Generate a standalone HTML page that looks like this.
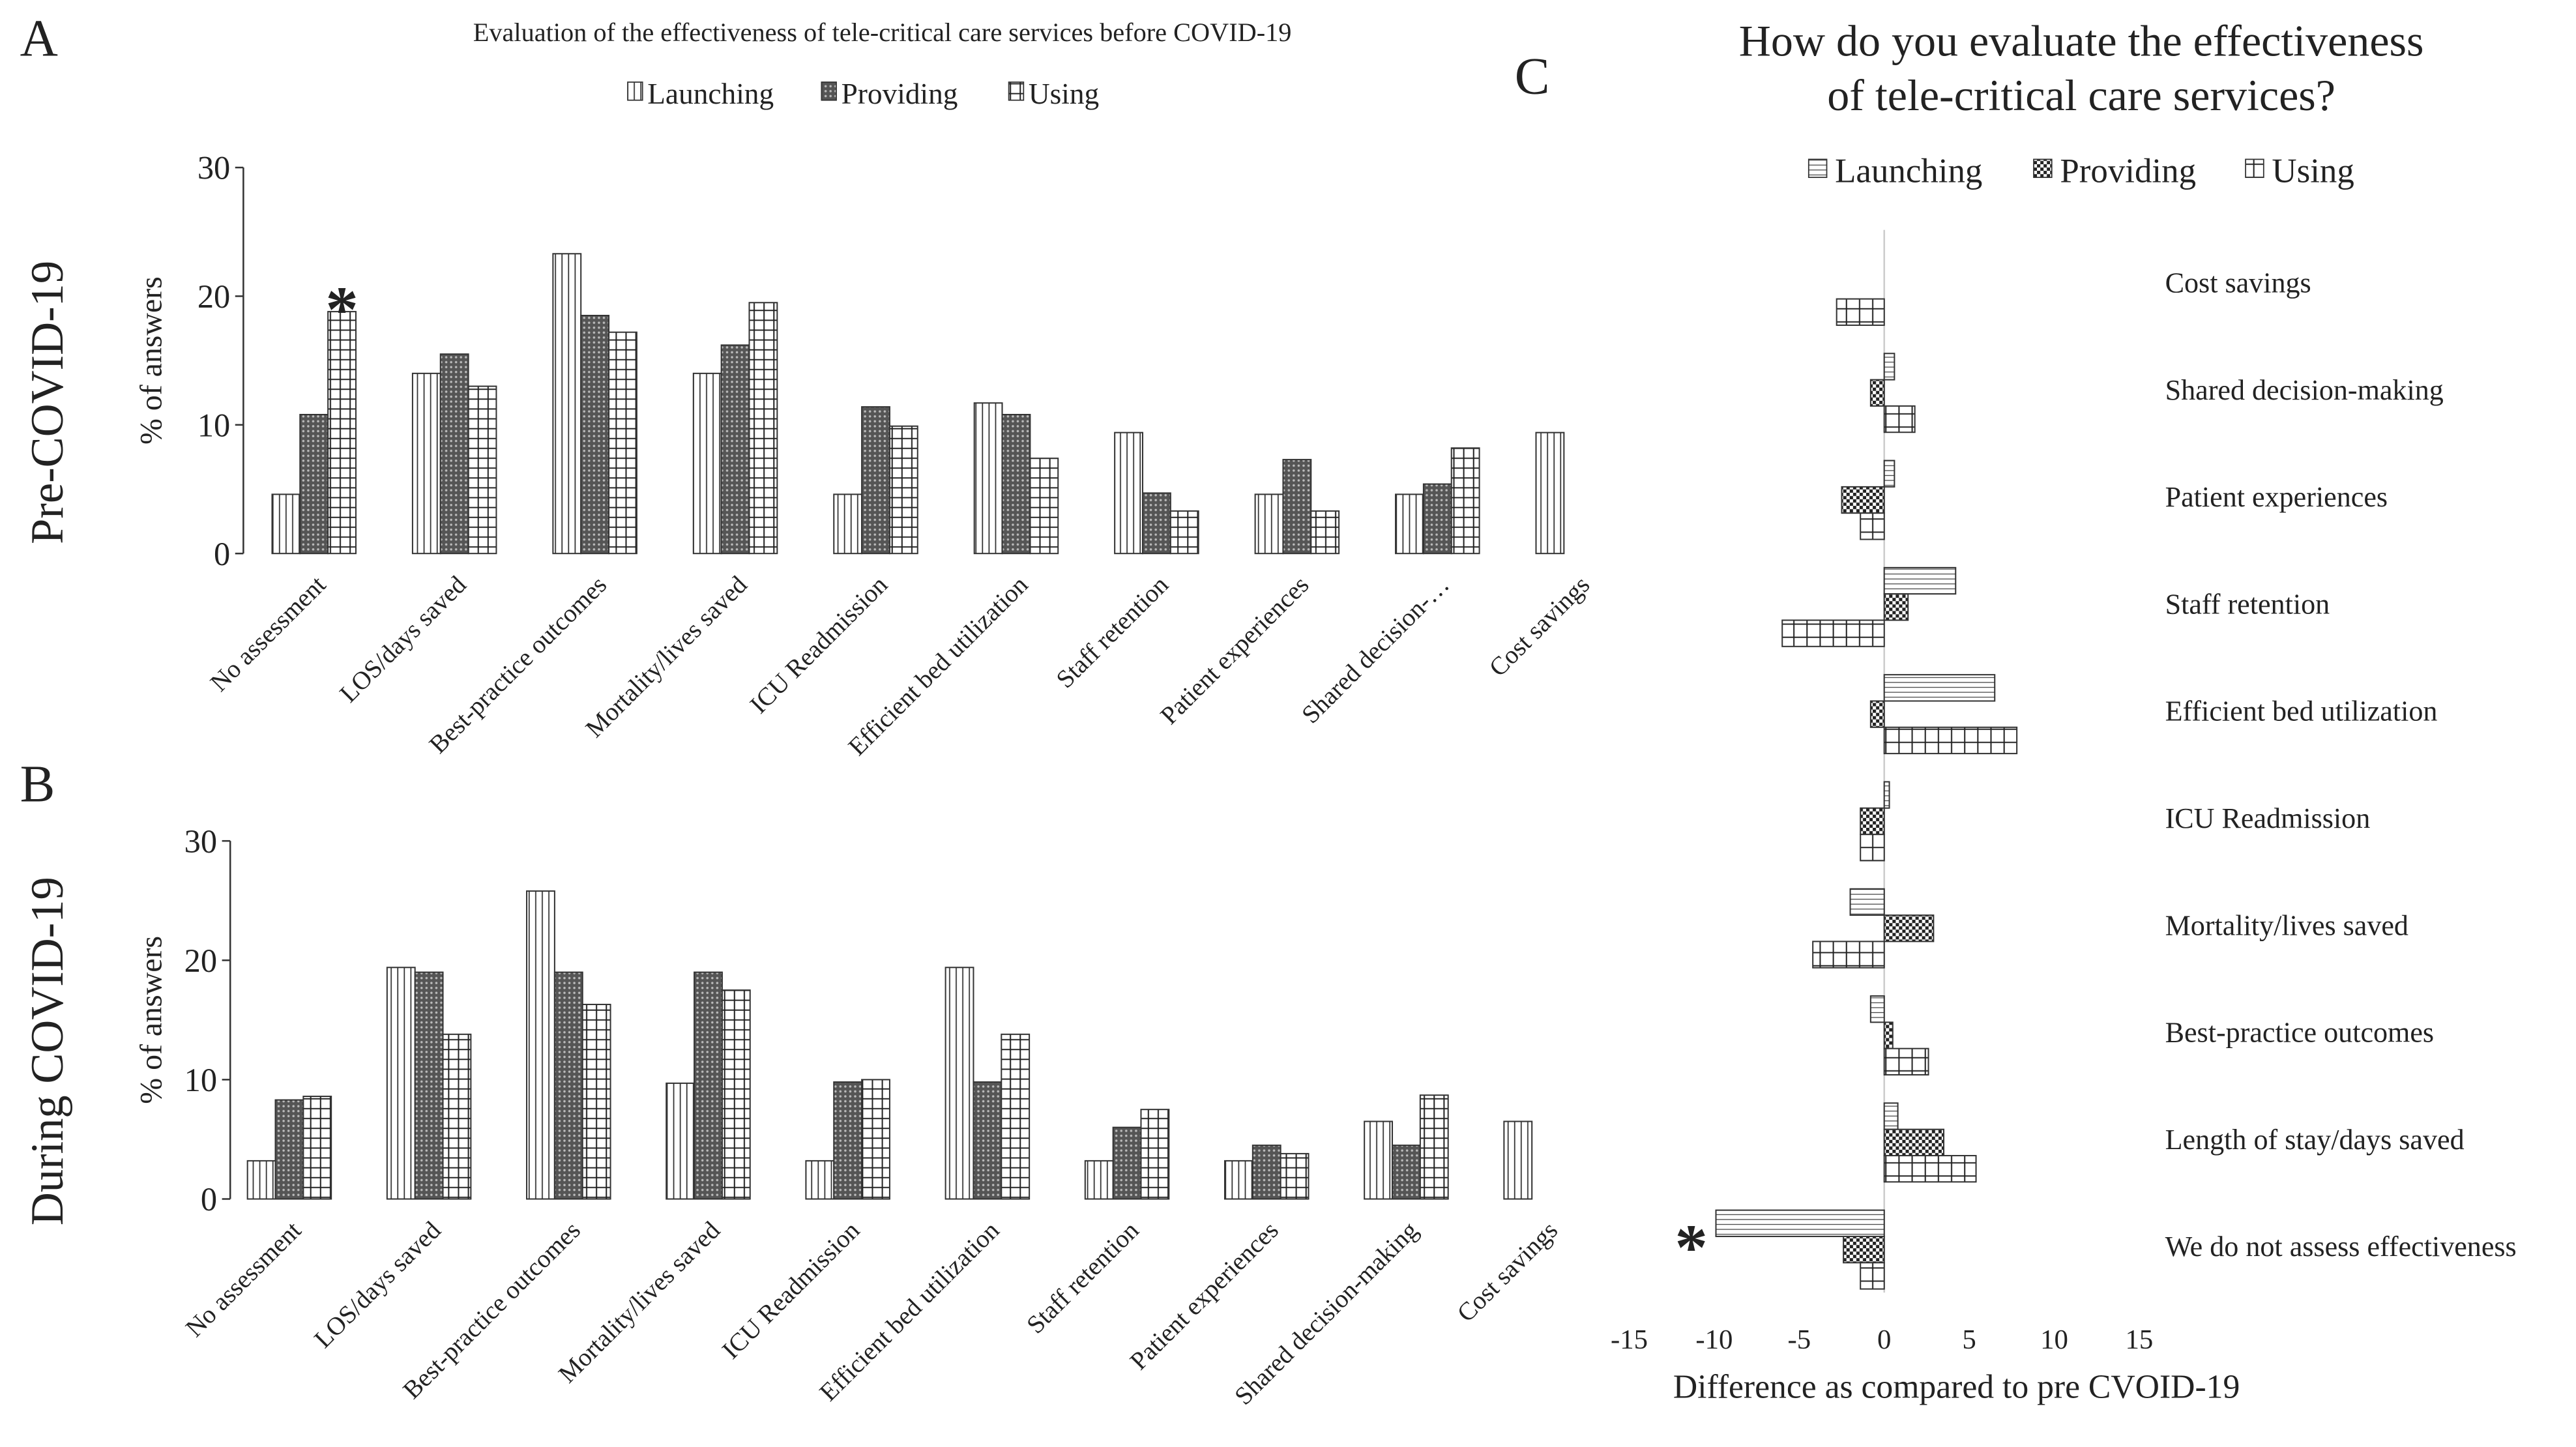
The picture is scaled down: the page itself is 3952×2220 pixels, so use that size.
<!DOCTYPE html>
<html><head><meta charset="utf-8"><style>
html,body{margin:0;padding:0;background:#fff}
svg{display:block}
text{font-family:"Liberation Serif",serif;fill:#222}
</style></head><body>
<svg id="fig" width="3952" height="2220" viewBox="0 0 1568 881" xmlns="http://www.w3.org/2000/svg">
<defs>
<pattern id="pV" width="4" height="4" patternUnits="userSpaceOnUse"><rect width="4" height="4" fill="#fff"/><line x1="2" y1="0" x2="2" y2="4" stroke="#333" stroke-width="0.7"/></pattern>
<pattern id="pD" width="3" height="3" patternUnits="userSpaceOnUse"><rect width="3" height="3" fill="#555"/><circle cx="1.5" cy="1.5" r="0.7" fill="#bbb"/></pattern>
<pattern id="pG" width="6" height="6" patternUnits="userSpaceOnUse"><rect width="6" height="6" fill="#fff"/><path d="M3 0V6M0 3H6" stroke="#222" stroke-width="0.8"/></pattern>
<pattern id="pH" width="3" height="3" patternUnits="userSpaceOnUse"><rect width="3" height="3" fill="#fff"/><line x1="0" y1="1.5" x2="3" y2="1.5" stroke="#444" stroke-width="0.5"/></pattern>
<pattern id="pC" width="4" height="4" patternUnits="userSpaceOnUse"><rect width="4" height="4" fill="#fff"/><rect width="2" height="2" fill="#222"/><rect x="2" y="2" width="2" height="2" fill="#222"/></pattern>
<pattern id="pG2" width="8" height="8" patternUnits="userSpaceOnUse"><rect width="8" height="8" fill="#fff"/><path d="M4 0V8M0 4H8" stroke="#222" stroke-width="0.8"/></pattern>
</defs>
<g id="root"></g>
</svg>
<script>
const catsA = ["No assessment","LOS/days saved","Best-practice outcomes","Mortality/lives saved","ICU Readmission","Efficient bed utilization","Staff retention","Patient experiences","Shared decision-…","Cost savings"];
const catsB = ["No assessment","LOS/days saved","Best-practice outcomes","Mortality/lives saved","ICU Readmission","Efficient bed utilization","Staff retention","Patient experiences","Shared decision-making","Cost savings"];
const seriesNames = ["Launching","Providing","Using"];
const aLaunching = [4.6,14,23.3,14,4.6,11.7,9.4,4.6,4.6,9.4];
const aProviding = [10.8,15.5,18.5,16.2,11.4,10.8,4.7,7.3,5.4,0];
const aUsing = [18.8,13,17.2,19.5,9.9,7.4,3.3,3.3,8.2,0];
const bLaunching = [3.2,19.4,25.8,9.7,3.2,19.4,3.2,3.2,6.5,6.5];
const bProviding = [8.3,19,19,19,9.8,9.8,6,4.5,4.5,0];
const bUsing = [8.6,13.8,16.3,17.5,10,13.8,7.5,3.8,8.7,0];
const yTicks = [0,10,20,30];
const catsC = ["Cost savings","Shared decision-making","Patient experiences","Staff retention","Efficient bed utilization","ICU Readmission","Mortality/lives saved","Best-practice outcomes","Length of stay/days saved","We do not assess effectiveness"];
const cLaunching = [0,0.6,0.6,4.2,6.5,0.3,-2,-0.8,0.8,-9.9];
const cProviding = [0,-0.8,-2.5,1.4,-0.8,-1.4,2.9,0.5,3.5,-2.4];
const cUsing = [-2.8,1.8,-1.4,-6,7.8,-1.4,-4.2,2.6,5.4,-1.4];
const xTicksC = [-15,-10,-5,0,5,10,15];

const NS="http://www.w3.org/2000/svg", root=document.getElementById('root');
function mk(tag,attrs,parent,txt){const e=document.createElementNS(NS,tag);for(const k in attrs)e.setAttribute(k,attrs[k]);if(txt!==undefined)e.textContent=txt;(parent||root).appendChild(e);return e;}

let t;
t=mk('text',{x:12,y:34,'font-size':32},root,'A');
t=mk('text',{x:12,y:488,'font-size':32},root,'B');
t=mk('text',{x:922,y:57,'font-size':32},root,'C');

t=mk('text',{x:537,y:25,'font-size':16,'text-anchor':'middle'},root,'Evaluation of the effectiveness of tele-critical care services before COVID-19');


const lgA=[[382,'pV','Launching'],[500,'pD','Providing'],[614,'pG','Using']];
lgA.forEach(l=>{const g=mk('g',{});
 mk('rect',{x:l[0],y:50,width:9,height:11,fill:'url(#'+l[1]+')',stroke:'#333','stroke-width':0.7},g);
 mk('text',{x:l[0]+12,y:63,'font-size':18},g,l[2]);});

function vChart(name,ax,y0,y30,cats,vals,pitch,firstC,rowLabel,rowY){
 const g=mk('g',{});
 const ys=v=>y0-(y0-y30)*v/30;
 const ya=mk('line',{x1:ax,y1:ys(30),x2:ax,y2:y0,stroke:'#333','stroke-width':1},g);
 yTicks.forEach(v=>{mk('line',{x1:ax-5,y1:ys(v),x2:ax,y2:ys(v),stroke:'#333'},g);
  const tl=mk('text',{x:ax-8,y:ys(v)+7,'font-size':20,'text-anchor':'end'},g,String(v));});
 const pats=['pV','pD','pG'];
 cats.forEach((c,i)=>{const cx=firstC+i*pitch;
  vals.forEach((s,k)=>{if(s[i]<=0)return;const bw=17;const x=cx-25.5+k*bw;
   const r=mk('rect',{x:x,y:ys(s[i]),width:bw,height:y0-ys(s[i]),fill:'url(#'+pats[k]+')',stroke:'#333','stroke-width':0.8},g);
   });
  const lx=cx+8, ly=y0+20;
  const tl=mk('text',{x:lx,y:ly,'font-size':15.5,'text-anchor':'end',transform:'rotate(-45 '+lx+' '+ly+')'},g,c);
  });
 const mid=(y0+y30)/2;
 const at=mk('text',{x:0,y:0,'font-size':19,'text-anchor':'middle',transform:'translate(98 '+mid+') rotate(-90)'},g,'% of answers');
 
 const rl=mk('text',{x:0,y:0,'font-size':28,'text-anchor':'middle',transform:'translate(38 '+rowY+') rotate(-90)'},g,rowLabel);
 
 return ys;
}
const ysA=vChart('chart-a-pre-covid',148,337,102,catsA,[aLaunching,aProviding,aUsing],85.5,191,'Pre-COVID-19',245);
vChart('chart-b-during-covid',140,730,512,catsB,[bLaunching,bProviding,bUsing],85,176,'During COVID-19',640);
t=mk('text',{x:208,y:ysA(aUsing[0])+12,'font-size':40,'font-weight':'bold','text-anchor':'middle','font-family':'Liberation Sans'},root,'*');


const gc=mk('g',{});
t=mk('text',{x:1267,y:34,'font-size':27,'text-anchor':'middle'},gc,'How do you evaluate the effectiveness');
t=mk('text',{x:1267,y:67,'font-size':27,'text-anchor':'middle'},gc,'of tele-critical care services?');
const lgC=[[1101,'pH','Launching'],[1238,'pC','Providing'],[1367,'pG2','Using']];
lgC.forEach(l=>{const g=mk('g',{},gc);
 mk('rect',{x:l[0],y:97,width:11,height:11,fill:'url(#'+l[1]+')',stroke:'#333','stroke-width':0.7},g);
 mk('text',{x:l[0]+16,y:111,'font-size':21},g,l[2]);});
const x0=1147, ux=10.35, xs=v=>x0+v*ux;
const rowTop=172, rowPitch=65.2;
const za=mk('line',{x1:x0,y1:140,x2:x0,y2:787,stroke:'#ccc','stroke-width':1},gc);
const patsC=['pH','pC','pG2'];
const valsC=[cLaunching,cProviding,cUsing];
catsC.forEach((c,i)=>{const cy=rowTop+i*rowPitch+2;
 valsC.forEach((s,k)=>{if(s[i]===0)return;const bh=16;const y=cy-24+k*bh;
  const a=xs(Math.min(0,s[i])),b=xs(Math.max(0,s[i]));
  const r=mk('rect',{x:a,y:y,width:b-a,height:bh,fill:'url(#'+patsC[k]+')',stroke:'#333','stroke-width':0.8},gc);
  });
 const tl=mk('text',{x:1318,y:cy+4,'font-size':17.5},gc,c);});
xTicksC.forEach(v=>{const tl=mk('text',{x:xs(v),y:821,'font-size':17,'text-anchor':'middle'},gc,String(v));});
t=mk('text',{x:1191,y:851,'font-size':20.5,'text-anchor':'middle'},gc,'Difference as compared to pre CVOID-19');
t=mk('text',{x:xs(cLaunching[9])-15,y:rowTop+9*rowPitch-2+16,'font-size':40,'font-weight':'bold','text-anchor':'middle','font-family':'Liberation Sans'},gc,'*');

</script>
</body></html>
